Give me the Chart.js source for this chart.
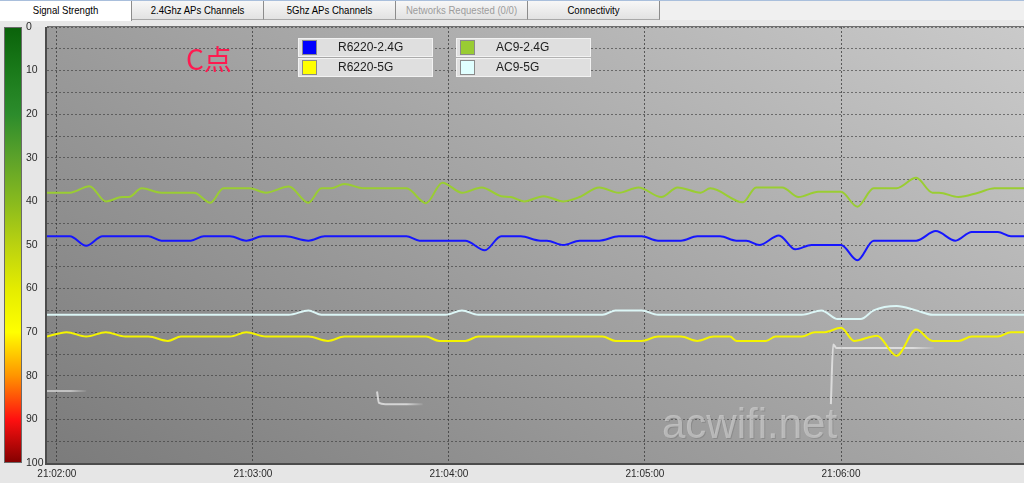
<!DOCTYPE html>
<html>
<head>
<meta charset="utf-8">
<script src="https://cdn.jsdelivr.net/npm/chart.js@4.4.1/dist/chart.umd.min.js"></script>
<style>
html, body { margin: 0; padding: 0; background: #e6e6e6; width: 1024px; height: 483px; overflow: hidden; }
#wrap { position: relative; width: 1024px; height: 483px; }
#tabs { position: absolute; left: 0; top: 0; width: 1024px; height: 20px; background: #f0f0f0; border-top: 1px solid #a9bfdc; box-sizing: border-box; z-index: 2; }
.tab { position: absolute; top: 0; height: 19px; text-align: center;
       font: 11px "Liberation Sans", Arial, sans-serif; color: #000;
       background: linear-gradient(#f7f7f7, #e2e2e2); border-right: 1px solid #8c8c8c; border-bottom: 1px solid #a8a8a8; box-sizing: border-box; }
.tab span { position: absolute; left: 0; right: 0; top: 4px; line-height: 11px; transform: scaleX(0.87); white-space: nowrap; }
.tab.active { background: #fff; border-bottom: none; height: 20px; }
.tab.off { color: #9c9c9c; }
canvas { position: absolute; left: 0; top: 0; }
</style>
</head>
<body>
<div id="wrap">
  <div id="tabs">
    <div class="tab active" style="left:0;width:132px"><span>Signal Strength</span></div>
    <div class="tab" style="left:132px;width:132px"><span>2.4Ghz APs Channels</span></div>
    <div class="tab" style="left:264px;width:132px"><span>5Ghz APs Channels</span></div>
    <div class="tab off" style="left:396px;width:132px"><span>Networks Requested (0/0)</span></div>
    <div class="tab" style="left:528px;width:132px"><span>Connectivity</span></div>
  </div>
  <canvas id="c" width="1024" height="483"></canvas>
</div>
<script>
// x values are seconds after 21:02:00, y values are signal (0 = top, 100 = bottom)
const timeLabels = ['21:02:00', '21:03:00', '21:04:00', '21:05:00', '21:06:00'];
const tickSeconds = [0, 60, 120, 180, 240];
const yGridValues = [0, 5, 10, 15, 20, 25, 30, 35, 40, 45, 50, 55, 60, 65, 70, 75, 80, 85, 90, 95, 100];
const yLabelValues = [0, 10, 20, 30, 40, 50, 60, 70, 80, 90, 100];

const seriesNames = ['R6220-2.4G', 'R6220-5G', 'AC9-2.4G', 'AC9-5G'];
const lineColors = ['#1616ff', '#f4f400', '#9acd32', '#dcf6f6'];
const swatchColors = ['#0000ff', '#ffff00', '#99cc33', '#e0ffff'];

const r6220_24_t = [-3, 4, 9, 14, 28, 32, 41, 45, 53, 58, 63, 70, 77, 82, 107, 111, 125, 131, 136, 142,
  148, 150, 155, 160, 166, 172, 179, 184, 191, 196, 203, 208, 211, 215, 221, 226, 231, 240, 245, 250,
  263, 269, 275, 280, 288, 292, 296];
const r6220_24_v = [48, 48, 50.2, 48, 48, 49, 49, 48, 48, 49, 48, 48, 49, 48, 48, 49, 49, 51.2, 48, 48,
  49, 49, 50, 49, 49, 48, 48, 49, 49, 48, 48, 49, 49, 50, 47.8, 51, 50, 50, 53.5, 49,
  49, 46.8, 49, 47, 47, 48, 48];

const r6220_5_t = [-3, 3, 9, 15, 21, 28, 34, 38, 53, 58, 64, 77, 83, 88, 113, 117, 125, 129, 167, 171,
  179, 184, 191, 196, 201, 206, 208, 217, 220, 228, 232, 235, 240, 244, 251, 257, 263, 268, 276, 280,
  288, 292, 296];
const r6220_5_v = [71, 70, 71, 70, 71, 71, 72, 71, 71, 70, 71, 71, 72, 71, 71, 72, 72, 71, 71, 72,
  72, 71, 71, 72, 71, 71, 72, 72, 71, 71, 70, 70, 69, 72, 70.8, 75.4, 69.4, 72, 72, 71,
  71, 70, 70];

const ac9_24_t = [-3, 4, 10, 15, 20, 22, 26, 32, 42, 47, 51, 59, 64, 71, 77, 81, 84, 88, 94, 107,
  113, 118, 124, 130, 136, 139, 143, 149, 155, 160, 166, 172, 178, 185, 190, 197, 200, 210, 214, 222,
  227, 233, 240, 245, 250, 257, 263, 268, 270, 276, 282, 287, 296];
const ac9_24_v = [38, 38, 36.5, 40, 39, 39, 37, 38, 38, 40.3, 37, 37, 38, 36.6, 40.3, 37, 37, 36, 37, 37,
  40.4, 35.7, 38, 36.8, 38.8, 39, 40, 38.8, 40, 39, 36.8, 38, 36.8, 39, 36.8, 38, 37, 40.2, 36.8, 36.8,
  39, 37.8, 37.8, 41.2, 37, 37, 34.6, 38, 38, 39, 38, 37, 37];

const ac9_5_t = [-3, 71, 77, 81, 119, 124, 129, 167, 171, 179, 184, 228, 234, 239, 246, 250, 257, 263, 268, 296];
const ac9_5_v = [66, 66, 65, 66, 66, 65, 66, 66, 65, 65, 66, 66, 65, 67, 67, 65, 64, 65, 66, 66];

// faint traces of networks that came and went
const ghostA_t = [-3, 4, 9];
const ghostA_v = [83.5, 83.5, 83.5];
const ghostB_t = [98, 98.6, 100.5, 112];
const ghostB_v = [83.6, 86.2, 86.5, 86.5];
const ghostC_t = [236.9, 237.6, 238.6, 268.4];
const ghostC_v = [86.5, 72.8, 73.6, 73.6];

const colorBarStops = [
  [0, '#0a620a'], [10, '#1a7a1a'], [20, '#2c8c2c'], [30, '#5ca22a'], [40, '#88ba1e'],
  [50, '#bad210'], [60, '#e4ec00'], [70, '#ffff00'], [80, '#ff9400'], [90, '#ff1010'], [100, '#820000']
];

const TICK_FONT = '"Liberation Sans", Arial, sans-serif';

function pts(ts, vs) {
  return ts.map((t, i) => ({ x: t, y: vs[i] }));
}

function fadeStroke(rgb, fromSec, toSec) {
  return function (ctx) {
    const chart = ctx.chart;
    const xs = chart.scales.x;
    if (!chart.chartArea || !xs) return 'rgba(' + rgb + ',0.8)';
    const g = chart.ctx.createLinearGradient(xs.getPixelForValue(fromSec), 0, xs.getPixelForValue(toSec), 0);
    g.addColorStop(0, 'rgba(' + rgb + ',0.85)');
    g.addColorStop(1, 'rgba(' + rgb + ',0.1)');
    return g;
  };
}

const backdrop = {
  id: 'backdrop',
  beforeDraw(chart) {
    const { ctx, chartArea: a } = chart;
    ctx.save();
    // band between tabs and plot
    ctx.fillStyle = '#e8e8e8';
    ctx.fillRect(0, 20, 1024, a.top - 20);
    // plot background
    const g = ctx.createLinearGradient(a.left, a.bottom, a.left + 483, a.bottom - 752);
    g.addColorStop(0, '#7b7b7b');
    g.addColorStop(1, '#cacaca');
    ctx.fillStyle = g;
    ctx.fillRect(a.left, a.top, a.right - a.left, a.bottom - a.top);
    // colour bar
    const y = chart.scales.y;
    const cg = ctx.createLinearGradient(0, y.getPixelForValue(0), 0, y.getPixelForValue(100));
    colorBarStops.forEach(s => cg.addColorStop(s[0] / 100, s[1]));
    ctx.fillStyle = cg;
    ctx.fillRect(4, a.top, 18, a.bottom - a.top);
    ctx.strokeStyle = '#6a6a6a';
    ctx.lineWidth = 1;
    ctx.strokeRect(4.5, a.top + 0.5, 17, a.bottom - a.top - 1);
    ctx.restore();
  },
  afterDraw(chart) {
    const { ctx, chartArea: a } = chart;
    ctx.save();
    // frame
    ctx.lineWidth = 1;
    ctx.strokeStyle = '#707070';
    ctx.beginPath(); ctx.moveTo(a.left, a.top - 0.5); ctx.lineTo(a.right, a.top - 0.5); ctx.stroke();
    ctx.strokeStyle = '#4c4c4c';
    ctx.lineWidth = 2;
    ctx.beginPath();
    ctx.moveTo(a.left - 1, a.top); ctx.lineTo(a.left - 1, a.bottom + 1); ctx.lineTo(a.right, a.bottom + 1);
    ctx.stroke();

    // legend boxes
    const groups = [[0, 1], [2, 3]];
    const boxX = [298, 456];
    ctx.font = '12px "Liberation Sans", Arial, sans-serif';
    ctx.textBaseline = 'middle';
    groups.forEach((grp, gi) => {
      grp.forEach((di, ri) => {
        const x = boxX[gi], y = 38 + ri * 20;
        ctx.fillStyle = '#dfdfdf';
        ctx.fillRect(x, y, 135, 19);
        ctx.strokeStyle = '#f2f2f2';
        ctx.lineWidth = 1;
        ctx.strokeRect(x + 0.5, y + 0.5, 134, 18);
        ctx.fillStyle = swatchColors[di];
        ctx.fillRect(x + 5, y + 3, 13, 13);
        ctx.strokeStyle = '#8a8a8a';
        ctx.strokeRect(x + 4.5, y + 2.5, 14, 14);
        ctx.fillStyle = '#202020';
        ctx.fillText(chart.data.datasets[di].label, x + 40, y + 10);
      });
    });

    // point label
    ctx.fillStyle = '#ff1a50';
    ctx.font = '28px "Noto Sans CJK SC", sans-serif';
    ctx.textBaseline = 'alphabetic';
    ctx.fillText('C点', 186, 70);

    // watermark
    ctx.font = '42px "Liberation Sans", Arial, sans-serif';
    ctx.shadowColor = 'rgba(0,0,0,0.18)';
    ctx.shadowOffsetX = 1;
    ctx.shadowOffsetY = 1;
    ctx.fillStyle = 'rgba(214,214,214,0.6)';
    ctx.fillText('acwifi.net', 662, 438);
    ctx.restore();
  }
};

const datasets = seriesNames.map((name, i) => ({
  label: name,
  data: pts([r6220_24_t, r6220_5_t, ac9_24_t, ac9_5_t][i], [r6220_24_v, r6220_5_v, ac9_24_v, ac9_5_v][i]),
  borderColor: lineColors[i],
  borderWidth: 2
}));
datasets.push(
  { label: '', data: pts(ghostA_t, ghostA_v), borderColor: fadeStroke('205,205,205', 4, 9), borderWidth: 2 },
  { label: '', data: pts(ghostB_t, ghostB_v), borderColor: fadeStroke('225,225,225', 107, 112), borderWidth: 2 },
  { label: '', data: pts(ghostC_t, ghostC_v), borderColor: fadeStroke('228,228,228', 262, 268.4), borderWidth: 2 }
);

new Chart(document.getElementById('c'), {
  type: 'line',
  data: { datasets: datasets },
  options: {
    responsive: false,
    animation: false,
    layout: { padding: { top: 27, left: 26, right: 0, bottom: 0 } },
    plugins: { legend: { display: false }, tooltip: { enabled: false } },
    elements: {
      point: { radius: 0 },
      line: { cubicInterpolationMode: 'monotone', fill: false }
    },
    scales: {
      x: {
        type: 'linear',
        min: -3,
        max: 296,
        afterFit(s) { s.height = 20; },
        afterBuildTicks(s) { s.ticks = tickSeconds.map(v => ({ value: v })); },
        ticks: {
          autoSkip: false,
          maxRotation: 0,
          padding: 5,
          color: '#2a2a2a',
          font: { family: TICK_FONT, size: 10 },
          callback: (v, i) => timeLabels[i]
        },
        grid: { color: 'rgba(55,55,55,0.75)', lineWidth: 1, drawTicks: false },
        border: { display: false, dash: [2, 2] }
      },
      y: {
        type: 'linear',
        reverse: true,
        min: 0,
        max: 100,
        afterFit(s) { s.width = 21; },
        afterBuildTicks(s) { s.ticks = yGridValues.map(v => ({ value: v })); },
        ticks: {
          autoSkip: false,
          crossAlign: 'far',
          padding: 0,
          color: '#2a2a2a',
          font: { family: TICK_FONT, size: 10.5 },
          callback: v => (yLabelValues.indexOf(v) >= 0 ? String(v) : '')
        },
        grid: { color: 'rgba(55,55,55,0.6)', lineWidth: 1, drawTicks: false },
        border: { display: false, dash: [2, 2] }
      }
    }
  },
  plugins: [backdrop]
});
</script>
</body>
</html>
